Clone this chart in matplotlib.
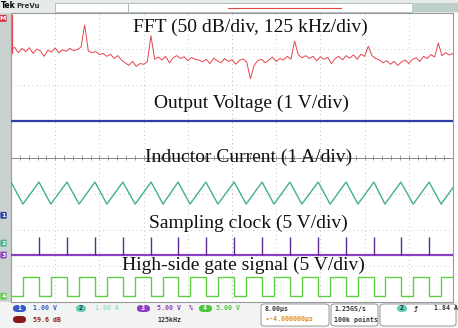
import numpy as np
import matplotlib
matplotlib.use("Agg")
import matplotlib.pyplot as plt
from matplotlib.patches import FancyBboxPatch, Rectangle

# ---- data (x in divisions 0..10, y in divisions -4..4)
fft_trace = [2.98, 3.05, 2.90, 3.02, 2.93, 3.04, 2.88, 3.00, 2.95, 2.80, 2.97, 2.92,
             3.03, 2.90, 2.98, 2.94, 3.02, 2.96, 2.99, 3.05,
             3.67,
             2.95, 2.90, 2.93, 2.85, 2.88, 2.80, 2.86, 2.74, 2.82, 2.70,
             2.62, 2.55, 2.66, 2.52, 2.60, 2.58, 2.65,
             3.37,
             2.72, 2.78, 2.70, 2.80, 2.62, 2.76, 2.82, 2.74, 2.79, 2.68, 2.77, 2.72,
             2.70, 2.65, 2.72, 2.60, 2.75, 2.68, 2.62, 2.74, 2.66, 2.71, 2.58, 2.69, 2.73, 2.64,
             2.18,
             2.55, 2.68, 2.72, 2.62, 2.70, 2.78, 2.66, 2.74, 2.70, 2.80, 2.72,
             3.22,
             2.85, 2.76, 2.82, 2.74, 2.80, 2.68, 2.79, 2.72, 2.77, 2.60, 2.74, 2.80, 2.70,
             2.82, 2.75, 2.84, 2.72, 2.86, 2.80,
             3.08,
             2.82, 2.74, 2.70, 2.62, 2.68, 2.58, 2.66, 2.55, 2.64, 2.70, 2.60, 2.72, 2.76,
             2.66, 2.80, 2.74, 2.85, 2.78,
             3.17,
             2.82, 2.90, 2.84, 2.88]

vout_level = 1.01

# switching edges of the high-side gate (divisions)
gate_on = [0.27, 0.90, 1.54, 2.17, 2.81, 3.44, 4.05, 4.68, 5.32, 5.95, 6.58, 7.22,
           7.85, 8.46, 9.10, 9.73]
gate_off = [0.0, 0.633, 1.267, 1.90, 2.53, 3.17, 3.78, 4.41, 5.05, 5.68, 6.31, 6.95,
            7.58, 8.21, 8.82, 9.46, 10.09]

il_peak, il_valley = -0.68, -1.29
clk_base, clk_top = -2.70, -2.20
gate_hi, gate_lo = -3.31, -3.84

labels = ["FFT (50 dB/div, 125 kHz/div)", "Output Voltage (1 V/div)",
          "Inductor Current (1 A/div)", "Sampling clock (5 V/div)",
          "High-side gate signal (5 V/div)"]
label_pos = [(5.41, 3.59), (5.45, 1.51), (5.38, 0.01), (5.36, -1.81), (5.25, -2.98)]

W, H = 458, 328
fig = plt.figure(figsize=(W / 100, H / 100), dpi=100)
fig.patch.set_facecolor("white")

# left gray strip and header
fig.add_artist(Rectangle((0, 0), 11 / W, 1, transform=fig.transFigure,
                         color="#c9d2ce", zorder=0))
fig.add_artist(Rectangle((0, 1 - 12 / H), 1, 12 / H, transform=fig.transFigure,
                         color="#e6ebe9", zorder=0))
fig.add_artist(Rectangle((55 / W, 1 - 12 / H), 73 / W, 9 / H, transform=fig.transFigure,
                         facecolor="white", edgecolor="#9aa", lw=0.5, zorder=1))
fig.add_artist(Rectangle((128 / W, 1 - 12 / H), 284 / W, 9 / H, transform=fig.transFigure,
                         facecolor="white", edgecolor="#9aa", lw=0.5, zorder=1))
fig.add_artist(Rectangle((412 / W, 1 - 12 / H), 46 / W, 9 / H, transform=fig.transFigure,
                         facecolor="#bfd0cb", edgecolor="none", zorder=1))
fig.add_artist(plt.Line2D([228 / W, 341 / W], [1 - 8 / H, 1 - 8 / H],
                          transform=fig.transFigure, color="#e04848", lw=0.8))
fig.text(1 / W, 1 - 6 / H, "Tek", fontsize=5.5, fontweight="bold", va="center",
         family="DejaVu Sans")
fig.text(16 / W, 1 - 6 / H, "PreVu", fontsize=5, va="center", color="#333",
         family="DejaVu Sans", fontweight="bold")

ax = fig.add_axes([11 / W, 26 / H, 442 / W, 289 / H])
ax.set_xlim(0, 10)
ax.set_ylim(-4, 4)
ax.set_xticks([])
ax.set_yticks([])
for s in ax.spines.values():
    s.set_color("#9a9a9a")
    s.set_linewidth(0.8)

# graticule
for gx in range(1, 10):
    ax.axvline(gx, color="#b5b5b5", lw=0.6, ls=(0, (1, 4)), zorder=1)
for gy in range(-3, 4):
    ax.axhline(gy, color="#b5b5b5", lw=0.6, ls=(0, (1, 4)), zorder=1)
ax.axhline(0, color="#8a8a8a", lw=0.7, zorder=1)
ax.axvline(5, color="#b5b5b5", lw=0.6, ls=(0, (1, 4)), zorder=1)
minor = np.arange(0, 10.01, 0.2)
ax.vlines(minor, -0.06, 0.06, color="#8a8a8a", lw=0.6, zorder=1)

# FFT
fx = np.linspace(0, 10, len(fft_trace))
ax.plot(fx, fft_trace, color="#e5444e", lw=0.7, zorder=3)
ax.plot([0.02, 0.02], [3.95, 2.9], color="#e5444e", lw=0.9, zorder=3)

# output voltage
ax.plot([0, 10], [vout_level, vout_level], color="#2f3ea6", lw=1.6, zorder=3)

# inductor current triangle
edges = sorted([(t, il_peak) for t in gate_off] + [(t, il_valley) for t in gate_on])
ax.plot([e[0] for e in edges], [e[1] for e in edges], color="#43b08e", lw=1.0, zorder=3)

# sampling clock
ax.plot([0, 10], [clk_base, clk_base], color="#8b3fc2", lw=1.6, zorder=3)
ax.vlines(gate_off[1:-1], clk_base, clk_top, color="#5b2a8c", lw=1.0, zorder=3)

# gate signal
gx_, gy_ = [0.0], [gate_lo]
for on, off in zip(gate_on, gate_off[1:]):
    gx_ += [on, on, off, off]
    gy_ += [gate_lo, gate_hi, gate_hi, gate_lo]
ax.plot(gx_, gy_, color="#5ccf45", lw=1.0, zorder=3)

# annotations
for txt, (tx, ty) in zip(labels, label_pos):
    ax.text(tx, ty, txt, ha="center", va="center", fontsize=14,
            family="Liberation Serif", color="#111", zorder=5)

# channel markers on the left strip
marks = [("M", 3.85, "#d9334a"), ("1", -1.6, "#2f3ea6"), ("2", -2.37, "#43b08e"),
         ("3", -2.70, "#8b3fc2"), ("4", -3.84, "#5ccf45")]
for m, my, mc in marks:
    ax.annotate(m, xy=(-0.012, my), xycoords=("axes fraction", "data"), ha="right",
                va="center", fontsize=4.5, color="white", fontweight="bold",
                annotation_clip=False,
                bbox=dict(boxstyle="round,pad=0.15", fc=mc, ec="none"))

# status bar
def pill(x, y, w, h, fc):
    fig.add_artist(FancyBboxPatch((x / W, 1 - y / H), w / W, h / H,
                                  boxstyle="round,pad=0,rounding_size=0.01",
                                  transform=fig.transFigure, fc=fc, ec="none"))

def stxt(x, y, s, c, **kw):
    fig.text(x / W, 1 - y / H, s, color=c, fontsize=4.8, va="center",
             family="DejaVu Sans Mono", fontweight="bold", **kw)

fig.add_artist(Rectangle((0, 0), 1, 26 / H, transform=fig.transFigure,
                         color="#f2f4f3", zorder=0))
pill(13, 312, 13, 7, "#3557c9"); stxt(17, 308.5, "1", "white")
stxt(33, 308.5, "1.00 V", "#3557c9")
pill(76, 312, 10, 7, "#61d0b0"); stxt(79, 308.5, "2", "#225")
stxt(95, 308.5, "1.00 A", "#9adfcc")
pill(137, 312, 13, 7, "#8b3fc2"); stxt(141, 308.5, "3", "white")
stxt(157, 308.5, "5.00 V", "#8b3fc2")
stxt(189, 308.5, "%", "#8b3fc2")
pill(199, 312, 13, 7, "#4ec43d"); stxt(203, 308.5, "4", "white")
stxt(216, 308.5, "5.00 V", "#4ec43d")
pill(13, 323, 13, 7, "#8a1a1a")
stxt(33, 319.5, "59.6 dB", "#8a1a1a")
stxt(157, 319.5, "125kHz", "#333")
for bx, bw in [(261, 68), (331, 47), (380, 76)]:
    fig.add_artist(FancyBboxPatch((bx / W, 2 / H), bw / W, 22 / H,
                                  boxstyle="round,pad=0,rounding_size=0.008",
                                  transform=fig.transFigure, fc="white",
                                  ec="#888", lw=0.6))
stxt(265, 308.5, "8.00µs", "#333")
stxt(265, 319.5, "\u25b8-4.000000µs", "#e08a1a")
stxt(334, 308.5, "1.25GS/s", "#333")
stxt(334, 319.5, "100k points", "#333")
pill(397, 312, 10, 7, "#61d0b0"); stxt(400, 308.5, "2", "#225")
stxt(414, 308.5, "\u0192", "#333")
stxt(434, 308.5, "1.84 A", "#333")

fig.savefig("out.png", dpi=100)
